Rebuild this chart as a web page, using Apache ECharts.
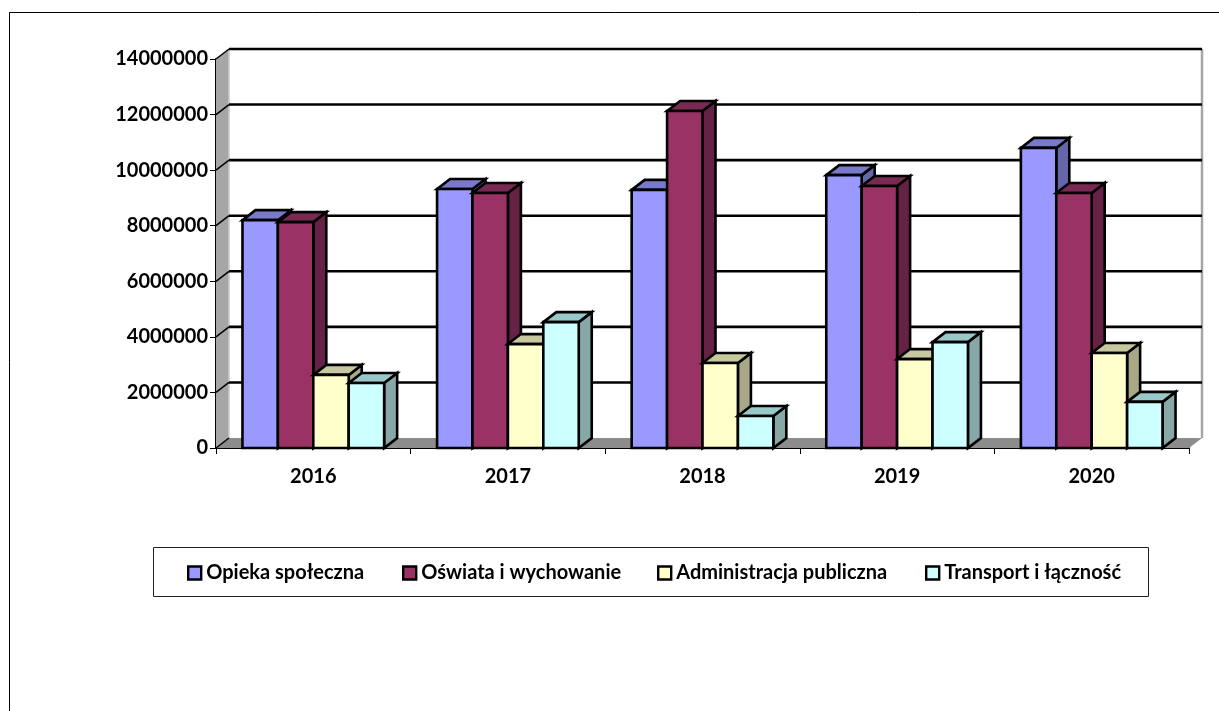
<!DOCTYPE html>
<html><head><meta charset="utf-8">
<style>html,body{margin:0;padding:0;background:#fff}#c{width:1219px;height:711px}</style>
<script src="https://cdn.jsdelivr.net/npm/echarts@6/dist/echarts.min.js"></script>
</head><body><div id="c"></div>
<script>
const categories = ['2016','2017','2018','2019','2020'];
const seriesNames = ['Opieka społeczna','Oświata i wychowanie','Administracja publiczna','Transport i łączność'];
const opieka = [8200000,9320000,9290000,9820000,10800000];
const oswiata = [8130000,9180000,12130000,9430000,9180000];
const administracja = [2630000,3740000,3060000,3200000,3420000];
const transport = [2340000,4530000,1150000,3810000,1660000];
const tickValues = [0,2000000,4000000,6000000,8000000,10000000,12000000,14000000];
const legendLefts = [182,397,652,920];
const faces = [
  ['#9999ff','#7a7acc','#6666aa'],
  ['#993366','#7a2952','#662244'],
  ['#ffffcc','#c8c8a0','#a8a888'],
  ['#ccffff','#99c8c8','#88a8a8']
];
const DX = 13, DY = -10, FONT = 'Lato';

function barRender(idx){
  return function(params, api){
    const p = api.coord([api.value(0), api.value(1)]);
    const base = api.coord([api.value(0), 0]);
    const band = api.size([1,0])[0];
    const w = band * 0.182;
    const x = p[0] - 2*w + idx*w, r = x+w, t = p[1], b = base[1];
    const s = {stroke:'#000', lineWidth:2.6, lineJoin:'miter'};
    return {type:'group', children:[
      {type:'polygon', shape:{points:[[r,t],[r+DX,t+DY],[r+DX,b+DY],[r,b]]}, style:Object.assign({fill:faces[idx][2]},s)},
      {type:'polygon', shape:{points:[[x,t],[x+DX,t+DY],[r+DX,t+DY],[r,t]]}, style:Object.assign({fill:faces[idx][1]},s)},
      {type:'rect', shape:{x:x,y:t,width:w,height:b-t}, style:Object.assign({fill:faces[idx][0]},s)}
    ]};
  };
}
function wallRender(params, api){
  const c = params.coordSys;
  const y = api.coord([0, api.value(1)])[1];
  const kids = [];
  if(params.dataIndex === 0){
    const top = c.y, bot = c.y + c.height, L = c.x, R = c.x + c.width;
    kids.push({type:'polygon', shape:{points:[[L,bot],[L+DX,bot+DY],[L+DX,top+DY],[L,top]]}, style:{fill:'#a6a6a6'}});
    kids.push({type:'line', shape:{x1:L+DX,y1:bot+DY,x2:L+DX,y2:top+DY}, style:{stroke:'#c8c8c8',lineWidth:1.5}});
    kids.push({type:'polygon', shape:{points:[[L,bot],[R,bot],[R+DX,bot+DY],[L+DX,bot+DY]]}, style:{fill:'#8c8c8c'}});
    kids.push({type:'line', shape:{x1:R+DX,y1:bot+DY,x2:R+DX,y2:top+DY}, style:{stroke:'#a6a6a6',lineWidth:2.5}});
  } else {
    kids.push({type:'line', shape:{x1:c.x+DX,y1:y+DY,x2:c.x+c.width+DX,y2:y+DY}, style:{stroke:'#000',lineWidth:2.6}});
  }
  kids.push({type:'line', shape:{x1:c.x,y1:y,x2:c.x+DX,y2:y+DY}, style:{stroke:'#000',lineWidth:1.5}});
  return {type:'group', children:kids};
}
const values = [opieka, oswiata, administracja, transport];
const chart = echarts.init(document.getElementById('c'), null, {renderer:'canvas'});
chart.setOption({
  animation:false,
  backgroundColor:'#fff',
  grid:{left:216, top:59, width:973, height:389, containLabel:false},
  graphic:[
    {type:'rect', silent:true, z:-1, shape:{x:9.5,y:12.5,width:1230,height:720}, style:{fill:'none',stroke:'#000',lineWidth:1}},
    {type:'rect', silent:true, z:-1, shape:{x:153.5,y:547.5,width:995,height:49}, style:{fill:'none',stroke:'#222',lineWidth:1}}
  ],
  legend:seriesNames.map((n,i)=>({
    data:[n], left:legendLefts[i], top:558, itemWidth:13, itemHeight:13, icon:'rect',
    itemStyle:{borderColor:'#000', borderWidth:2.4},
    textStyle:{fontFamily:FONT, fontWeight:'bold', fontSize:20, color:'#000'}
  })),
  xAxis:{type:'category', data:categories, boundaryGap:true,
    axisLine:{show:true, lineStyle:{color:'#000',width:2}},
    axisTick:{show:true, alignWithLabel:false, length:6, lineStyle:{color:'#000',width:1}},
    axisLabel:{fontFamily:FONT, fontWeight:'bold', fontSize:20, color:'#000', margin:19},
    splitLine:{show:false}
  },
  yAxis:{type:'value', min:0, max:14000000, interval:2000000,
    axisLine:{show:true, lineStyle:{color:'#000',width:2}},
    axisTick:{show:true, length:6, lineStyle:{color:'#000',width:1}},
    axisLabel:{fontFamily:FONT, fontWeight:'bold', fontSize:20, color:'#000', margin:8, formatter:v=>String(v)},
    splitLine:{show:false}
  },
  series:[
    {type:'custom', name:'wall', z:1, silent:true, renderItem:wallRender, encode:{x:0,y:1},
     data:tickValues.map(v=>[0,v])},
    ...seriesNames.map((n,i)=>({
      type:'custom', name:n, z:2+i, renderItem:barRender(i), encode:{x:0,y:1},
      itemStyle:{color:faces[i][0]},
      data:values[i].map((v,k)=>[k,v])
    }))
  ]
});
</script></body></html>
